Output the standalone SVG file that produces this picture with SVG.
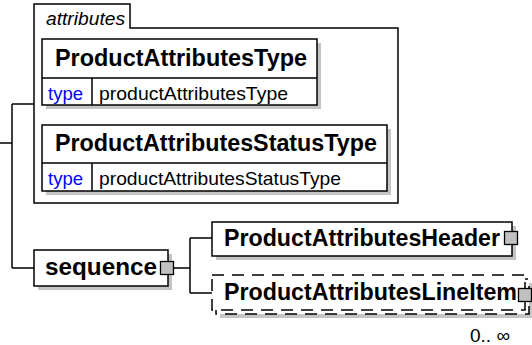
<svg xmlns="http://www.w3.org/2000/svg" width="532" height="345" viewBox="0 0 532 345">
<style>
.bg{fill:#fff}
.box{fill:#fff;stroke:#000;stroke-width:1.5}
.dash{fill:#fff;stroke:#000;stroke-width:1.5;stroke-dasharray:12 8}
.shadow{fill:#c4c4c4}
.ln{fill:none;stroke:#000;stroke-width:1.5}
.sq{fill:#c0c0c0;stroke:#000;stroke-width:1.3}
.title{font-family:"Liberation Sans",Arial,sans-serif;font-weight:bold;font-size:23px;fill:#000}
.small{font-family:"Liberation Sans",Arial,sans-serif;font-size:19px;fill:#000}
.kw{font-family:"Liberation Sans",Arial,sans-serif;font-size:19px;fill:#0000ff}
.it{font-family:"Liberation Sans",Arial,sans-serif;font-style:italic;font-size:19px;fill:#000}
</style>
<rect class="bg" x="0" y="0" width="532" height="345"/>
<g id="connectors">
  <path class="ln" d="M0,143 H12 M12,104 V268 M12,104 H34 M12,268 H34"/>
  <path class="ln" d="M174,268 H190 M190,238 V293 M190,238 H212 M190,293 H212"/>
</g>
<g id="attributes">
  <path class="box" d="M34,203 V4 H130 V28 H398 V203 Z"/>
  <text class="it" x="46" y="25" textLength="79" lengthAdjust="spacingAndGlyphs">attributes</text>
</g>
<g id="ProductAttributesType">
  <rect class="shadow" x="46" y="43" width="275" height="66"/>
  <rect class="box" x="42" y="39" width="275" height="66"/>
  <path class="ln" d="M42,78 H317 M92,78 V105"/>
  <text class="title" x="55" y="66" textLength="252" lengthAdjust="spacingAndGlyphs">ProductAttributesType</text>
  <text class="kw" x="48" y="100" textLength="35" lengthAdjust="spacingAndGlyphs">type</text>
  <text class="small" x="99" y="100" textLength="189" lengthAdjust="spacingAndGlyphs">productAttributesType</text>
</g>
<g id="ProductAttributesStatusType">
  <rect class="shadow" x="46" y="129" width="345" height="66"/>
  <rect class="box" x="42" y="125" width="345" height="66"/>
  <path class="ln" d="M42,163 H387 M92,163 V191"/>
  <text class="title" x="55" y="151" textLength="322" lengthAdjust="spacingAndGlyphs">ProductAttributesStatusType</text>
  <text class="kw" x="48" y="185" textLength="35" lengthAdjust="spacingAndGlyphs">type</text>
  <text class="small" x="99" y="185" textLength="242" lengthAdjust="spacingAndGlyphs">productAttributesStatusType</text>
</g>
<g id="sequence">
  <rect class="shadow" x="38" y="254" width="134" height="36"/>
  <rect class="box" x="34" y="250" width="134" height="36"/>
  <text class="title" x="45" y="275" textLength="112" lengthAdjust="spacingAndGlyphs">sequence</text>
  <rect class="sq" x="160.5" y="261.5" width="13" height="13"/>
</g>
<g id="ProductAttributesHeader">
  <rect class="shadow" x="216" y="226" width="300" height="34"/>
  <rect class="box" x="212" y="222" width="300" height="34"/>
  <text class="title" x="224" y="246" textLength="276" lengthAdjust="spacingAndGlyphs">ProductAttributesHeader</text>
  <rect class="sq" x="504.5" y="231.5" width="13" height="13"/>
</g>
<g id="ProductAttributesLineItem">
  <rect class="shadow" x="220" y="283" width="313" height="35"/>
  <rect class="dash" x="216" y="279" width="313" height="35"/>
  <rect class="dash" x="212" y="275" width="313" height="35"/>
  <text class="title" x="224" y="300" textLength="293" lengthAdjust="spacingAndGlyphs">ProductAttributesLineItem</text>
  <rect class="sq" x="518.5" y="288.5" width="13" height="13"/>
  <text class="small" x="470" y="342" textLength="40" lengthAdjust="spacingAndGlyphs">0.. ∞</text>
</g>
</svg>
